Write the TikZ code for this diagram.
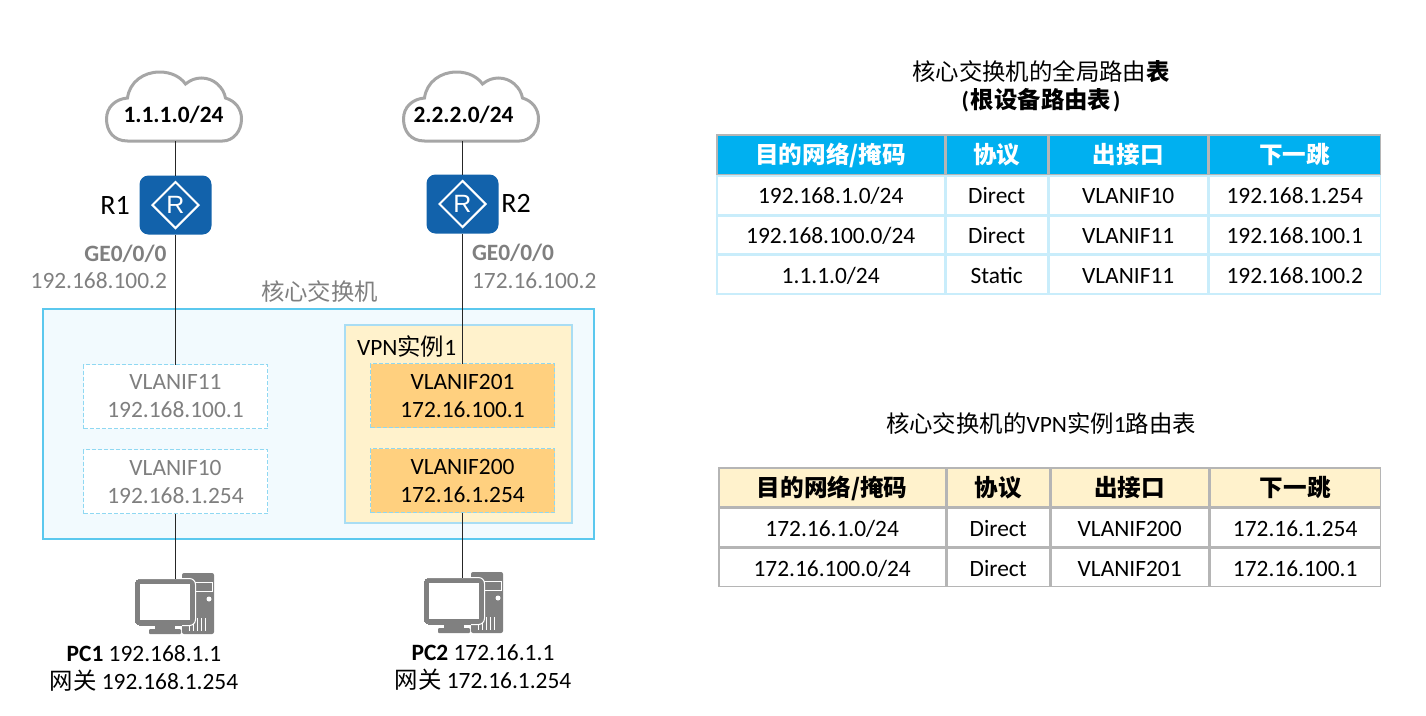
\documentclass[tikz,border=0pt]{standalone}
\usepackage{fontspec}
\setmainfont{Carlito}
\newfontfamily\cjk{Noto Sans CJK SC}
\newfontfamily\rfont{Liberation Sans}
\usetikzlibrary{matrix,shapes.geometric}
\definecolor{swblue}{HTML}{5BC8EE}
\definecolor{swfill}{HTML}{F2FAFE}
\definecolor{vpnfill}{HTML}{FFF2CC}
\definecolor{vpnline}{HTML}{A9DDF3}
\definecolor{ifdash}{HTML}{8FD8F2}
\definecolor{iffill}{HTML}{FFD07F}
\definecolor{txgray}{HTML}{7F7F7F}
\definecolor{devgray}{HTML}{808080}
\definecolor{cloudgray}{HTML}{A6A6A6}
\definecolor{routerblue}{HTML}{1262AB}
\definecolor{headblue}{HTML}{00B0F0}
\definecolor{cellblue}{HTML}{C9EDFB}
\definecolor{cellgray}{HTML}{B5B5B5}
\newcommand{\txtfont}{\fontsize{23.4}{28}\selectfont}
\newcommand{\hdfont}{\fontsize{23.6}{28}\selectfont\bfseries\cjk}
\tikzset{
  wire/.style={line width=1.4pt,black!85},
  graytext/.style={text=txgray},
  ifbox/.style={draw=ifdash,line width=1.5pt,dash pattern=on 4pt off 2pt,minimum width=184pt,minimum height=64pt,
    align=center,inner sep=0pt,outer sep=0pt},
  routerbox/.style={fill=routerblue,rounded corners=9pt,minimum width=72pt,minimum height=59pt,inner sep=0pt,outer sep=0pt},
  routermark/.style={diamond,draw=white,line width=2pt,minimum width=47pt,minimum height=47pt,inner sep=0pt,text=white,
    font=\fontsize{25}{26}\selectfont\rfont},
  cloudshape/.pic={
    \draw[cloudgray,fill=white,line width=3pt] (-48,0) .. controls (-62,0) and (-69,-10) .. (-69,-22)
      .. controls (-69,-34) and (-60,-42) .. (-48,-43) .. controls (-46,-59) and (-32,-69) .. (-16,-69)
      .. controls (-4,-69) and (5,-64) .. (10,-57) .. controls (15,-61) and (20,-63) .. (26,-63)
      .. controls (38,-63) and (48,-54) .. (50,-43) .. controls (60,-40) and (66,-32) .. (66,-22)
      .. controls (66,-10) and (58,0) .. (47,0) -- cycle;
  },
  pcshape/.pic={
    \fill[devgray,rounded corners=2pt] (47,-6) rectangle (79,55);
    \draw[white,line width=1pt] (60,3) rectangle (77,12);
    \fill[white] (74,20) circle (2.5);
    \foreach \v in {54,58,...,70} \draw[white,line width=1pt] (\v,39) -- (\v,52);
    \draw[devgray,fill=devgray,rounded corners=5pt,line width=0pt] (0,0) rectangle (60,46);
    \draw[white,line width=1pt,rounded corners=6pt] (-.5,-.5) -- (60.5,-.5) -- (60.5,46.5) -- (47,46.5);
    \fill[white] (5,5) rectangle (55,41);
    \fill[devgray] (20,46) rectangle (40,50);
    \fill[devgray,rounded corners=1pt] (14,50) rectangle (46,55);
  },
  tabcell/.style={draw=#1,line width=1.5pt,inner sep=0pt,outer sep=0pt,minimum height=38.3pt,text height=19pt,text depth=2pt},
  headcell/.style={text height=22pt,text depth=4pt,font=\hdfont},
}
\begin{document}
\begin{tikzpicture}[x=1pt,y=-1pt,font=\txtfont]
  \useasboundingbox (0,0) rectangle (1426,715);
  % core switch
  \draw[swblue,fill=swfill,line width=2.2pt] (43,309) rectangle (594,539);
  \draw[vpnline,fill=vpnfill,line width=1.5pt] (345,325) rectangle (572,523);
  \node[graytext] (swlab) at (319.5,292) {\cjk 核心交换机};
  \node[anchor=west] (vpnlab) at (353.5,347) {VPN{\cjk 实例}1};
  \node[ifbox,fill=white,graytext] (vl11) at (175.5,396.5) {VLANIF11\\192.168.100.1};
  \node[ifbox,fill=white,graytext] (vl10) at (175.5,481.5) {VLANIF10\\192.168.1.254};
  \node[ifbox,fill=iffill] (vl201) at (462.5,395.5) {VLANIF201\\172.16.100.1};
  \node[ifbox,fill=iffill] (vl200) at (462.5,480.5) {VLANIF200\\172.16.1.254};
  % clouds and routers
  \pic at (175.5,141) {cloudshape};
  \pic at (472.5,141) {cloudshape};
  \coordinate (cb1) at (175.5,141); \coordinate (cb2) at (462.5,141);
  \node[font=\txtfont\bfseries] (net1) at (173.5,115) {1.1.1.0/24};
  \node[font=\txtfont\bfseries] (net2) at (463.5,115) {2.2.2.0/24};
  \node[routerbox] (r1) at (175.5,205) {}; \node[routermark] (r1m) at (r1) {R};
  \node[routerbox] (r2) at (462.5,204) {}; \node[routermark] (r2m) at (r2) {R};
  \node[font=\fontsize{28}{30}\selectfont] (r1lab) at (115,205) {R1};
  \node[font=\fontsize{28}{30}\selectfont] (r2lab) at (516,203) {R2};
  \node[graytext,font=\txtfont\bfseries,anchor=east] (ge1) at (170,254) {GE0/0/0};
  \node[graytext,anchor=east] (ip1) at (170.5,281) {192.168.100.2};
  \node[graytext,font=\txtfont\bfseries,anchor=west] (ge2) at (468.5,253) {GE0/0/0};
  \node[graytext,anchor=west] (ip2) at (468.5,281) {172.16.100.2};
  % hosts
  \pic at (135,579) {pcshape};
  \pic at (424,578) {pcshape};
  \coordinate (pc1) at (175.5,579); \coordinate (pc2) at (462.5,578);
  \node[align=center] (pc1lab) at (144,668.5) {\textbf{PC1} 192.168.1.1\\{\cjk 网关} 192.168.1.254};
  \node[align=center] (pc2lab) at (483,667.5) {\textbf{PC2} 172.16.1.1\\{\cjk 网关} 172.16.1.254};
  % links
  \draw[wire] (cb1) -- (r1); \draw[wire] (r1) -- (vl11); \draw[wire] (vl10) -- (pc1);
  \draw[wire] (cb2) -- (r2); \draw[wire] (r2) -- (vl201); \draw[wire] (vl200) -- (pc2);
  % routing tables
  \node[align=center] (tt1) at (1041,86) {{\cjk 核心交换机的全局路由\textbf{表}}\\\textbf{(\kern2pt}{\cjk\bfseries 根设备路由表}\textbf{\kern2pt)}};
  \node (tt2) at (1041,424) {{\cjk 核心交换机的}VPN{\cjk 实例}1{\cjk 路由表}};
  \matrix[matrix of nodes,anchor=north west,inner sep=0pt,row sep=0pt,column sep=0pt,
    nodes={tabcell=cellblue},
    column 1/.style={nodes={minimum width=227.5pt}},column 2/.style={nodes={minimum width=101.5pt}},
    column 3/.style={nodes={minimum width=158.5pt}},column 4/.style={nodes={minimum width=171.5pt}},
    row 1/.style={nodes={tabcell=cellgray,fill=headblue,text=white,headcell,minimum height=39.5pt}}] (tab1) at (716,134) {
    目的网络/掩码 & 协议 & 出接口 & 下一跳 \\
    192.168.1.0/24 & Direct & VLANIF10 & 192.168.1.254 \\
    192.168.100.0/24 & Direct & VLANIF11 & 192.168.100.1 \\
    1.1.1.0/24 & Static & VLANIF11 & 192.168.100.2 \\
  };
  \matrix[matrix of nodes,anchor=north west,inner sep=0pt,row sep=0pt,column sep=0pt,
    nodes={tabcell=cellgray,minimum height=38.5pt,text height=21pt},
    column 1/.style={nodes={minimum width=226.5pt}},column 2/.style={nodes={minimum width=102.5pt}},
    column 3/.style={nodes={minimum width=157.5pt}},column 4/.style={nodes={minimum width=170.5pt}},
    row 1/.style={nodes={fill=vpnfill,headcell}}] (tab2) at (718,467) {
    目的网络/掩码 & 协议 & 出接口 & 下一跳 \\
    172.16.1.0/24 & Direct & VLANIF200 & 172.16.1.254 \\
    172.16.100.0/24 & Direct & VLANIF201 & 172.16.100.1 \\
  };
\end{tikzpicture}
\end{document}
